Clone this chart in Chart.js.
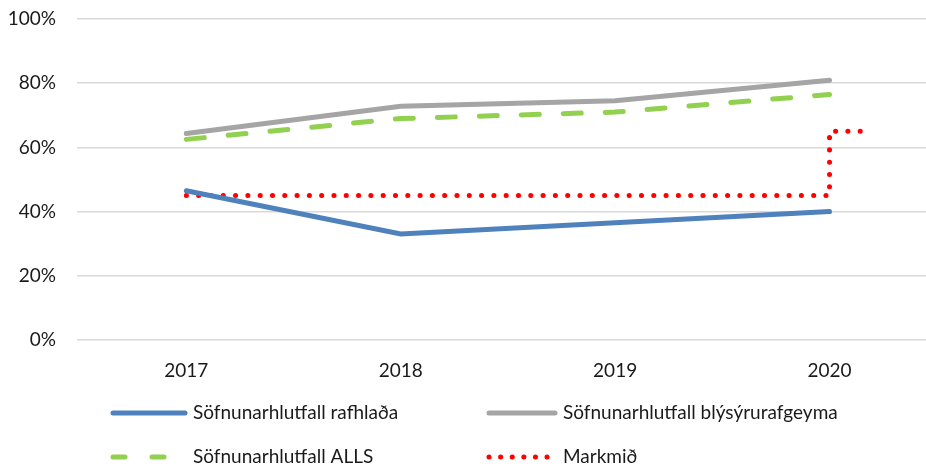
<!DOCTYPE html>
<html>
<head>
<meta charset="utf-8">
<script src="https://cdn.jsdelivr.net/npm/chart.js@4/dist/chart.umd.min.js"></script>
<style>
  html, body { margin: 0; padding: 0; background: #fff; }
  #wrap { width: 926px; height: 468px; }
</style>
</head>
<body>
<div id="wrap"><canvas id="myChart" width="926" height="468"></canvas></div>
<script>
var years = [2017, 2018, 2019, 2020];
var rafhlada = [46.5, 33, 36.5, 40];
var blysyru = [64.3, 72.8, 74.5, 80.9];
var alls = [62.5, 69, 71, 76.5];
var markmid = [45, 45, 45, 45];
var markmid2020 = 65;
var yTicks = [0, 20, 40, 60, 80, 100];

var fontFamily = "Lato, 'Open Sans', sans-serif";
var textColor = "#1a1a1a";

function pts(vals) {
  return years.map(function (y, i) { return { x: y, y: vals[i] }; });
}

// target line: flat at 45%, then steps up to the 2020 target
var markPts = pts(markmid);
markPts.push({ x: years[3], y: markmid2020 });
markPts.push({ x: years[3] + 0.17, y: markmid2020 });

var legendPlugin = {
  id: "gridLegend",
  afterDraw: function (chart) {
    var ctx = chart.ctx;
    var spots = [
      { x1: 113, x2: 185, tx: 193, y: 413 },
      { x1: 489, x2: 555, tx: 563, y: 413 },
      { x1: 113, x2: 185, tx: 193, y: 457 },
      { x1: 489, x2: 555, tx: 563, y: 457 }
    ];
    chart.data.datasets.forEach(function (ds, i) {
      var s = spots[i];
      ctx.save();
      ctx.strokeStyle = ds.borderColor;
      ctx.lineWidth = ds.borderWidth;
      ctx.lineCap = ds.borderCapStyle || "butt";
      ctx.setLineDash(ds.legendDash || []);
      ctx.beginPath();
      ctx.moveTo(s.x1, s.y);
      ctx.lineTo(s.x2, s.y);
      ctx.stroke();
      ctx.setLineDash([]);
      ctx.fillStyle = textColor;
      ctx.font = "19px " + fontFamily;
      ctx.textBaseline = "middle";
      ctx.fillText(ds.label, s.tx, s.y);
      ctx.restore();
    });
  }
};

var ctx1 = document.getElementById("myChart").getContext("2d");
var myChart1 = new Chart(ctx1, {
  type: "line",
  data: {
    datasets: [
      {
        label: "Söfnunarhlutfall rafhlaða",
        data: pts(rafhlada),
        borderColor: "#4F81BD",
        borderWidth: 5,
        borderCapStyle: "round",
        pointRadius: 0
      },
      {
        label: "Söfnunarhlutfall blýsýrurafgeyma",
        data: pts(blysyru),
        borderColor: "#A5A5A5",
        borderWidth: 5,
        borderCapStyle: "round",
        pointRadius: 0
      },
      {
        label: "Söfnunarhlutfall ALLS",
        data: pts(alls),
        borderColor: "#92D050",
        borderWidth: 5,
        borderCapStyle: "round",
        borderDash: [18, 24],
        legendDash: [12, 27],
        pointRadius: 0
      },
      {
        label: "Markmið",
        data: markPts,
        borderColor: "#FF0000",
        borderWidth: 5,
        borderCapStyle: "round",
        borderDash: [0.1, 12.2],
        legendDash: [0.1, 11.5],
        pointRadius: 0
      }
    ]
  },
  options: {
    responsive: false,
    animation: false,
    layout: { padding: { top: 19, right: 0, bottom: 90, left: 0 } },
    plugins: { legend: { display: false }, tooltip: { enabled: false } },
    scales: {
      x: {
        type: "linear",
        min: 2016.49,
        max: 2020.45,
        afterBuildTicks: function (scale) {
          scale.ticks = years.map(function (y) { return { value: y }; });
        },
        afterFit: function (scale) {
          scale.height = 38;
          scale.paddingLeft = 0;
          scale.paddingRight = 0;
        },
        grid: { display: false },
        border: { display: false },
        ticks: {
          color: textColor,
          font: { family: fontFamily, size: 19 },
          padding: 11,
          callback: function (v) { return String(v); }
        }
      },
      y: {
        min: 0,
        max: 100,
        afterBuildTicks: function (scale) {
          scale.ticks = yTicks.map(function (v) { return { value: v }; });
        },
        afterFit: function (scale) {
          scale.width = 77;
          scale.paddingTop = 0;
          scale.paddingBottom = 0;
        },
        grid: { color: "#D9D9D9", lineWidth: 1.5, drawTicks: false },
        border: { display: false },
        ticks: {
          color: textColor,
          font: { family: fontFamily, size: 19 },
          padding: 21,
          callback: function (v) { return v + "%"; }
        }
      }
    }
  },
  plugins: [legendPlugin]
});
</script>
</body>
</html>
